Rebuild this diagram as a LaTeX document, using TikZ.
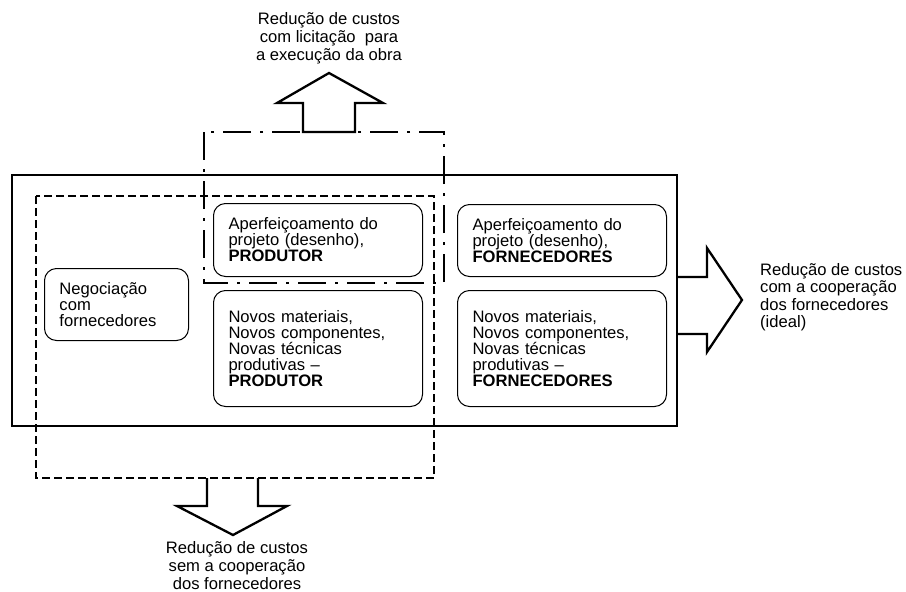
\documentclass[tikz,border=0pt]{standalone}
\usepackage{fontspec}
\setmainfont{Liberation Sans}
\begin{document}
\begin{tikzpicture}[x=1pt,y=-1pt,
  box/.style={draw, rounded corners=12pt, line width=1pt, align=left, inner xsep=15pt, inner ysep=0pt,
    font=\fontsize{16.6}{16}\selectfont, anchor=north west, minimum width=209pt, text width=179pt},
  lbl/.style={align=center, font=\fontsize{16.6}{18}\selectfont, inner sep=0pt},
  fat/.style={line width=2.5pt},
  dashbox/.style={line width=2.3pt, dash pattern=on 8pt off 4pt},
  dashdotbox/.style={line width=2.3pt, dash pattern=on 28pt off 9pt on 3pt off 9pt},
  bigarrow/.style={line width=2.3pt, line join=miter, fill=white}]
\useasboundingbox (0,0) rectangle (906,592);

% arrows
\draw[bigarrow] (303,132) -- (303,103) -- (277,103) -- (329,73) -- (383,103) -- (355,103) -- (355,132) -- cycle;
\draw[bigarrow] (207,478) -- (207,506) -- (177,506) -- (233,535) -- (287,506) -- (258,506) -- (258,478);
\draw[bigarrow] (677,277) -- (707,277) -- (707,248) -- (742,300) -- (707,352) -- (707,334) -- (677,334);

% main frame
\draw[fat] (12,175) rectangle (677,426);
% dashed region
\draw[dashbox] (36,196) rectangle (434,478);
% dash-dot region
\draw[dashdotbox] (204,132) rectangle (444,283);

% boxes
\node[box, minimum width=144pt, text width=114pt, minimum height=72pt] (neg) at (44,268) {Negociação\\com\\fornecedores};
\node[box, minimum height=73pt] (ap) at (213,203) {Aperfeiçoamento do\\projeto (desenho),\\\textbf{PRODUTOR}};
\node[box, minimum height=116pt] (np) at (213,290) {Novos materiais,\\Novos componentes,\\Novas técnicas\\produtivas –\\\textbf{PRODUTOR}};
\node[box, minimum height=72pt] (af) at (457,204) {Aperfeiçoamento do\\projeto (desenho),\\\textbf{FORNECEDORES}};
\node[box, minimum height=116pt] (nf) at (457,290) {Novos materiais,\\Novos componentes,\\Novas técnicas\\produtivas –\\\textbf{FORNECEDORES}};

% labels
\node[lbl] (top) at (329,38) {Redução de custos\\com licitação~ para\\a execução da obra};
\node[lbl] (bot) at (237,566) {Redução de custos\\sem a cooperação\\dos fornecedores};
\node[lbl, align=left, anchor=west, font=\fontsize{16.6}{17.5}\selectfont] (right) at (760,297) {Redução de custos\\com a cooperação\\dos fornecedores\\(ideal)};
\end{tikzpicture}
\end{document}
